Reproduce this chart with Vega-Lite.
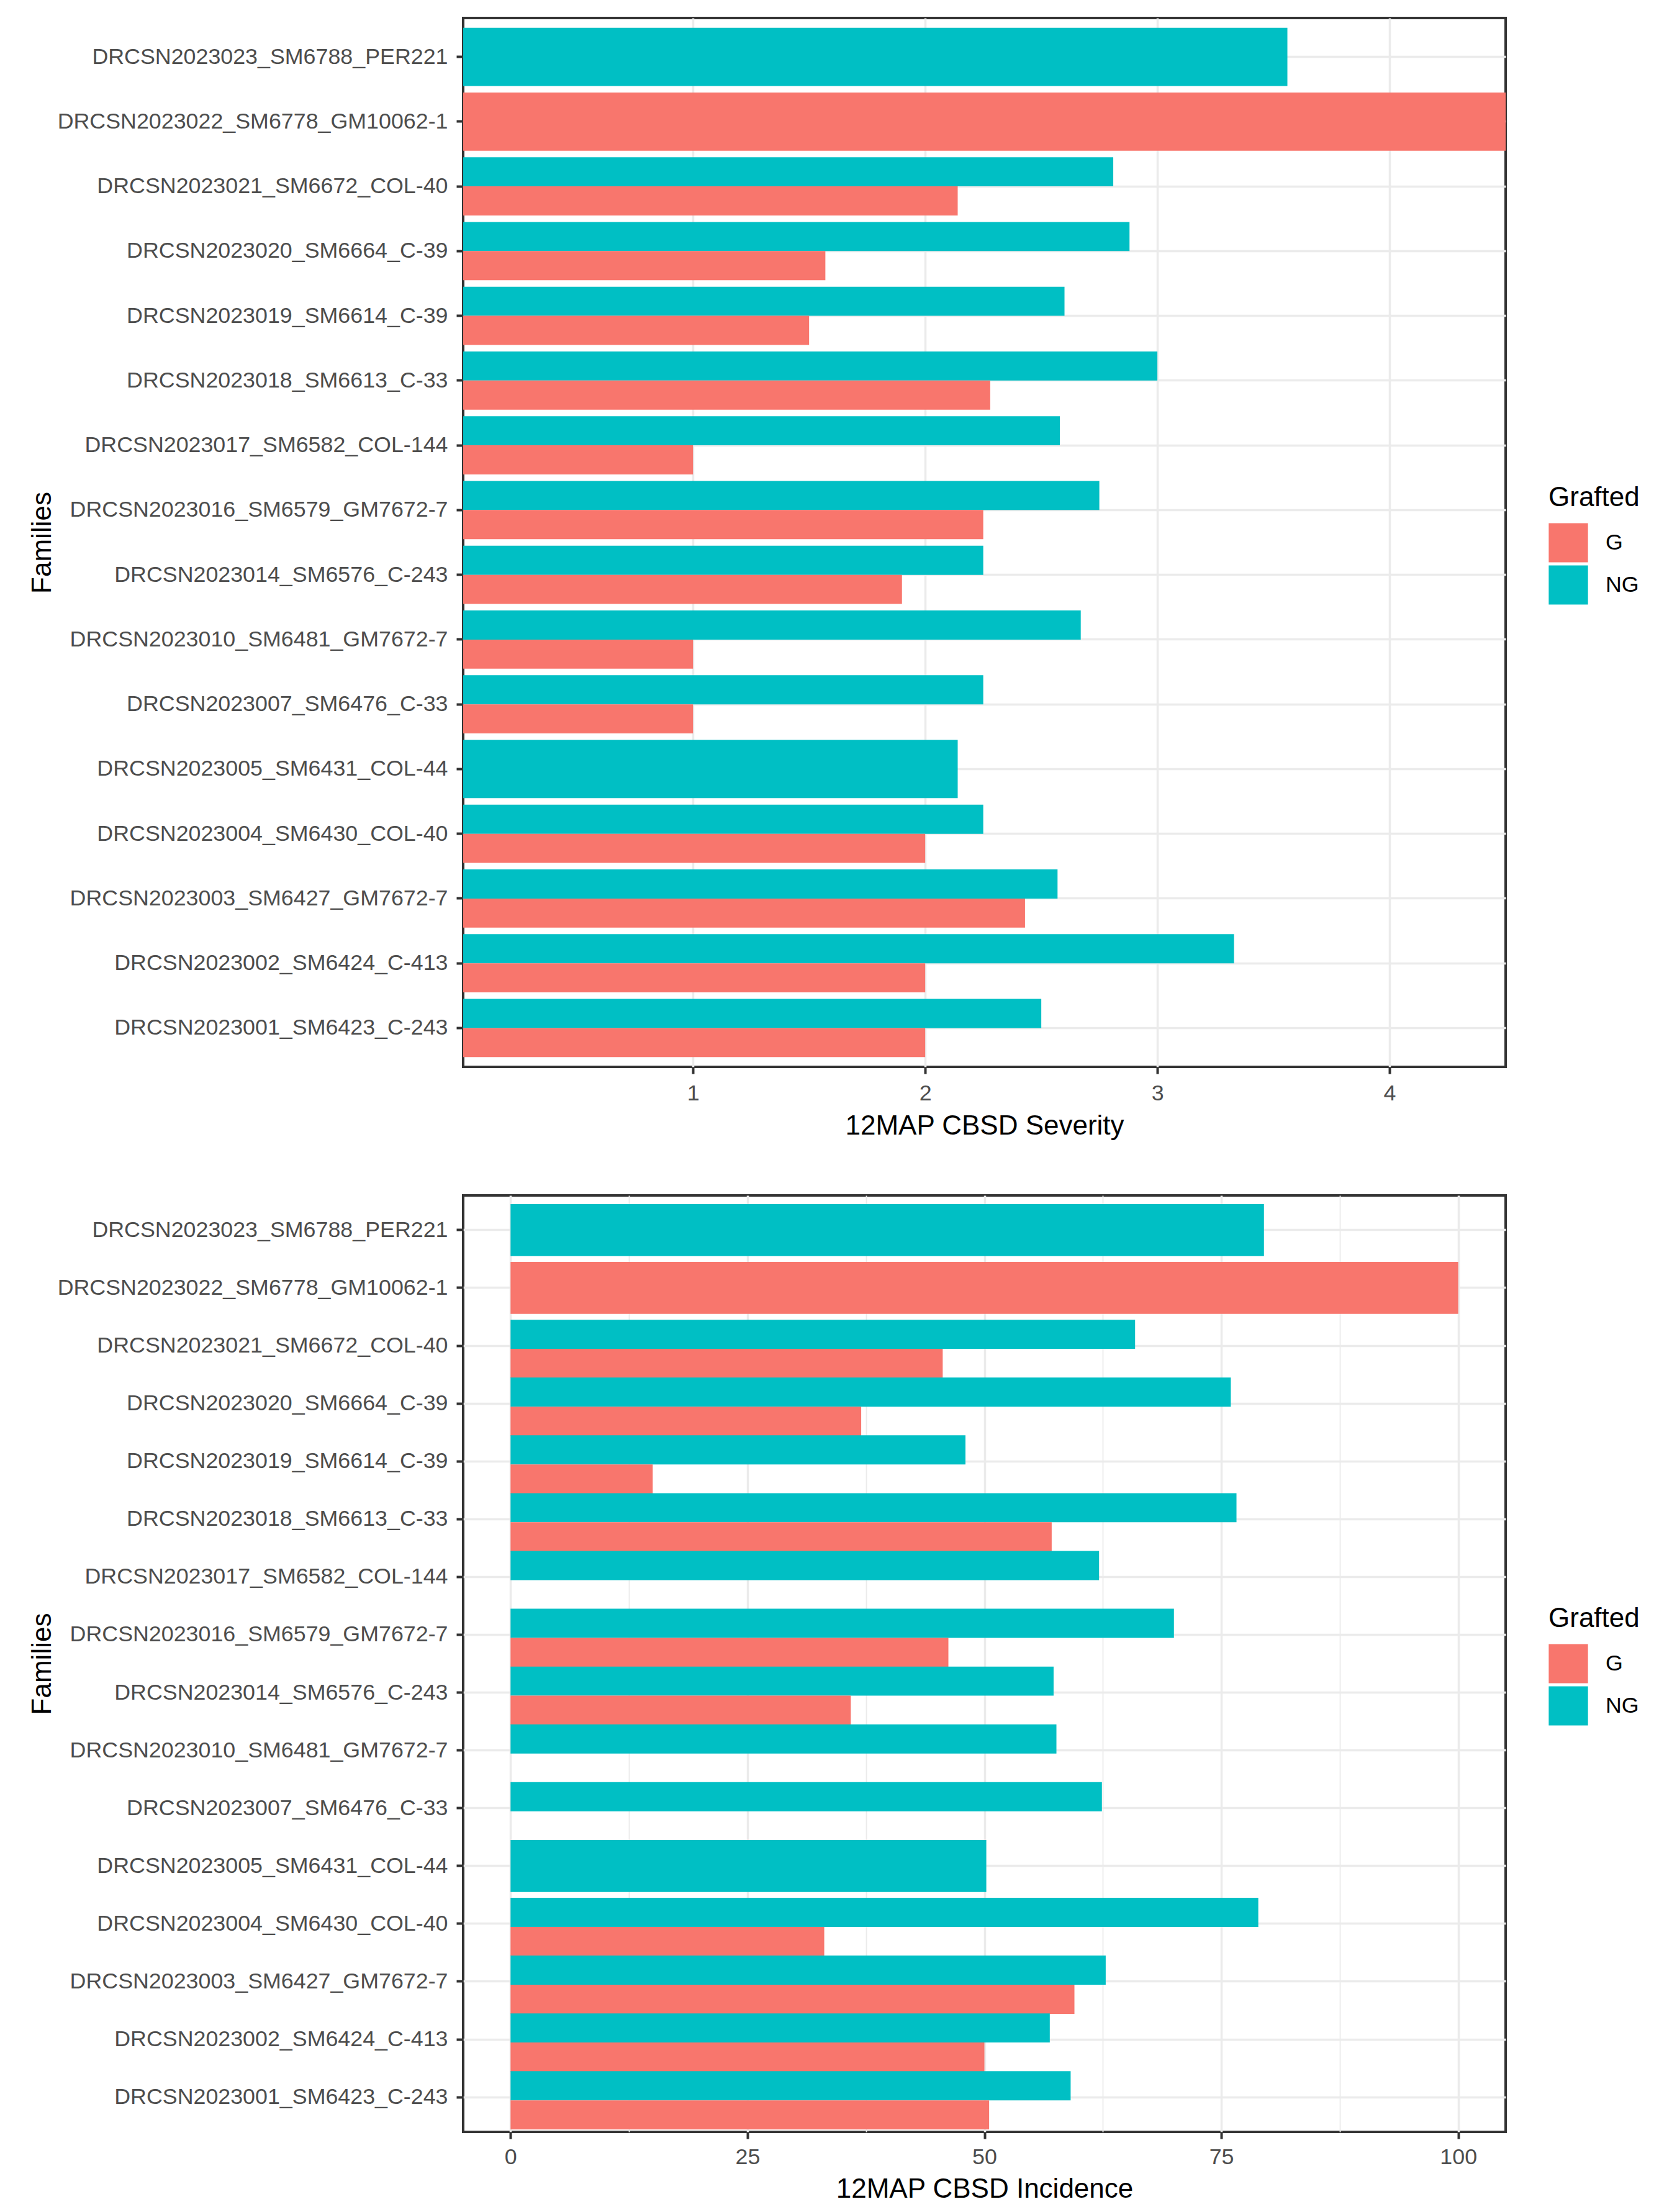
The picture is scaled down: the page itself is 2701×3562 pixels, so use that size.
{
  "$schema": "https://vega.github.io/schema/vega-lite/v6.json",
  "background": "white",
  "padding": {"left": 44, "top": 27, "right": 20, "bottom": 10},
  "datasets": {
    "cbsd": [
      {"family": "DRCSN2023023_SM6788_PER221", "grafted": "NG", "severity": 3.56, "incidence": 79.5},
      {"family": "DRCSN2023022_SM6778_GM10062-1", "grafted": "G", "severity": 4.5, "incidence": 100},
      {"family": "DRCSN2023021_SM6672_COL-40", "grafted": "NG", "severity": 2.81, "incidence": 65.9},
      {"family": "DRCSN2023021_SM6672_COL-40", "grafted": "G", "severity": 2.14, "incidence": 45.6},
      {"family": "DRCSN2023020_SM6664_C-39", "grafted": "NG", "severity": 2.88, "incidence": 76.0},
      {"family": "DRCSN2023020_SM6664_C-39", "grafted": "G", "severity": 1.57, "incidence": 37.0},
      {"family": "DRCSN2023019_SM6614_C-39", "grafted": "NG", "severity": 2.6, "incidence": 48.0},
      {"family": "DRCSN2023019_SM6614_C-39", "grafted": "G", "severity": 1.5, "incidence": 15.0},
      {"family": "DRCSN2023018_SM6613_C-33", "grafted": "NG", "severity": 3.0, "incidence": 76.6},
      {"family": "DRCSN2023018_SM6613_C-33", "grafted": "G", "severity": 2.28, "incidence": 57.1},
      {"family": "DRCSN2023017_SM6582_COL-144", "grafted": "NG", "severity": 2.58, "incidence": 62.1},
      {"family": "DRCSN2023017_SM6582_COL-144", "grafted": "G", "severity": 1.0, "incidence": 0},
      {"family": "DRCSN2023016_SM6579_GM7672-7", "grafted": "NG", "severity": 2.75, "incidence": 70.0},
      {"family": "DRCSN2023016_SM6579_GM7672-7", "grafted": "G", "severity": 2.25, "incidence": 46.2},
      {"family": "DRCSN2023014_SM6576_C-243", "grafted": "NG", "severity": 2.25, "incidence": 57.3},
      {"family": "DRCSN2023014_SM6576_C-243", "grafted": "G", "severity": 1.9, "incidence": 35.9},
      {"family": "DRCSN2023010_SM6481_GM7672-7", "grafted": "NG", "severity": 2.67, "incidence": 57.6},
      {"family": "DRCSN2023010_SM6481_GM7672-7", "grafted": "G", "severity": 1.0, "incidence": 0},
      {"family": "DRCSN2023007_SM6476_C-33", "grafted": "NG", "severity": 2.25, "incidence": 62.4},
      {"family": "DRCSN2023007_SM6476_C-33", "grafted": "G", "severity": 1.0, "incidence": 0},
      {"family": "DRCSN2023005_SM6431_COL-44", "grafted": "NG", "severity": 2.14, "incidence": 50.2},
      {"family": "DRCSN2023004_SM6430_COL-40", "grafted": "NG", "severity": 2.25, "incidence": 78.9},
      {"family": "DRCSN2023004_SM6430_COL-40", "grafted": "G", "severity": 2.0, "incidence": 33.1},
      {"family": "DRCSN2023003_SM6427_GM7672-7", "grafted": "NG", "severity": 2.57, "incidence": 62.8},
      {"family": "DRCSN2023003_SM6427_GM7672-7", "grafted": "G", "severity": 2.43, "incidence": 59.5},
      {"family": "DRCSN2023002_SM6424_C-413", "grafted": "NG", "severity": 3.33, "incidence": 56.9},
      {"family": "DRCSN2023002_SM6424_C-413", "grafted": "G", "severity": 2.0, "incidence": 50.0},
      {"family": "DRCSN2023001_SM6423_C-243", "grafted": "NG", "severity": 2.5, "incidence": 59.1},
      {"family": "DRCSN2023001_SM6423_C-243", "grafted": "G", "severity": 2.0, "incidence": 50.5}
    ]
  },
  "data": {"name": "cbsd"},
  "bounds": "flush",
  "spacing": 207,
  "vconcat": [
    {
      "width": 1679,
      "height": 1689,
      "transform": [{"joinaggregate": [{"op": "count", "as": "n"}], "groupby": ["family"]}],
      "layer": [
        {
          "transform": [{"filter": "datum.n > 1"}],
          "mark": {"type": "bar", "clip": true},
          "encoding": {
            "y": {"field": "family", "type": "nominal", "sort": "descending",
                  "scale": {"paddingInner": 0.1, "paddingOuter": 0.15},
                  "axis": {"title": "Families", "bandPosition": 0.5, "labelLimit": 1000,
                           "titleX": -665, "titleBaseline": "alphabetic"}},
            "yOffset": {"field": "grafted", "sort": ["NG", "G"]},
            "x": {"field": "severity", "type": "quantitative",
                  "scale": {"domain": [0.01, 4.5], "nice": false, "zero": false},
                  "axis": {"title": "12MAP CBSD Severity", "values": [1, 2, 3, 4], "format": "d"}},
            "color": {"field": "grafted", "type": "nominal",
                      "scale": {"domain": ["G", "NG"], "range": ["#F8766D", "#00BFC4"]},
                      "legend": {"title": "Grafted", "orient": "none", "legendX": 1748, "legendY": 751}}
          }
        },
        {
          "transform": [{"filter": "datum.n == 1"}],
          "mark": {"type": "bar", "clip": true},
          "encoding": {
            "y": {"field": "family", "type": "nominal", "sort": "descending"},
            "x": {"field": "severity", "type": "quantitative"},
            "color": {"field": "grafted", "type": "nominal",
                      "legend": {"title": "Grafted", "orient": "none", "legendX": 1748, "legendY": 751}}
          }
        }
      ]
    },
    {
      "width": 1679,
      "height": 1508,
      "transform": [{"joinaggregate": [{"op": "count", "as": "n"}], "groupby": ["family"]}],
      "layer": [
        {
          "transform": [{"filter": "datum.n > 1"}],
          "mark": {"type": "bar", "clip": true},
          "encoding": {
            "y": {"field": "family", "type": "nominal", "sort": "descending",
                  "scale": {"paddingInner": 0.1, "paddingOuter": 0.15},
                  "axis": {"title": "Families", "bandPosition": 0.5, "labelLimit": 1000,
                           "titleX": -665, "titleBaseline": "alphabetic"}},
            "yOffset": {"field": "grafted", "sort": ["NG", "G"]},
            "x": {"field": "incidence", "type": "quantitative",
                  "scale": {"domain": [-5, 105], "nice": false, "zero": false},
                  "axis": {"title": "12MAP CBSD Incidence",
                           "values": [0, 12.5, 25, 37.5, 50, 62.5, 75, 87.5, 100],
                           "labelExpr": "datum.value % 25 === 0 ? datum.label : ''",
                           "labelPadding": 12, "titlePadding": 13,
                           "tickOpacity": {"condition": {"test": "datum.value % 25 === 0", "value": 1}, "value": 0},
                           "gridWidth": {"condition": {"test": "datum.value % 25 === 0", "value": 3.5}, "value": 1.8}}},
            "color": {"field": "grafted", "type": "nominal",
                      "scale": {"domain": ["G", "NG"], "range": ["#F8766D", "#00BFC4"]},
                      "legend": {"title": "Grafted", "orient": "none", "legendX": 1748, "legendY": 660}}
          }
        },
        {
          "transform": [{"filter": "datum.n == 1"}],
          "mark": {"type": "bar", "clip": true},
          "encoding": {
            "y": {"field": "family", "type": "nominal", "sort": "descending"},
            "x": {"field": "incidence", "type": "quantitative"},
            "color": {"field": "grafted", "type": "nominal",
                      "legend": {"title": "Grafted", "orient": "none", "legendX": 1748, "legendY": 660}}
          }
        }
      ]
    }
  ],
  "resolve": {"scale": {"x": "independent", "y": "independent", "color": "independent"}},
  "config": {
    "font": "Liberation Sans",
    "view": {"stroke": "#333333", "strokeWidth": 4},
    "axis": {
      "domain": false,
      "grid": true,
      "gridColor": "#EBEBEB",
      "gridWidth": 3.5,
      "tickColor": "#333333",
      "tickWidth": 4,
      "tickSize": 11,
      "labelFont": "Liberation Sans",
      "labelFontSize": 35.8,
      "labelColor": "#4D4D4D",
      "labelLimit": 1000,
      "titleFont": "Liberation Sans",
      "titleFontSize": 44,
      "titleFontWeight": "normal",
      "titleColor": "#000000"
    },
    "axisX": {"labelPadding": 14, "titlePadding": 14},
    "axisY": {"labelPadding": 14, "titlePadding": 6},
    "legend": {
      "padding": 0,
      "titleFont": "Liberation Sans",
      "titleFontSize": 44,
      "titleFontWeight": "normal",
      "titleColor": "#000000",
      "titlePadding": 18,
      "labelFont": "Liberation Sans",
      "labelFontSize": 35.8,
      "labelColor": "#000000",
      "labelOffset": 28,
      "symbolType": "square",
      "symbolSize": 4000,
      "symbolStrokeWidth": 0,
      "rowPadding": 4
    }
  }
}
